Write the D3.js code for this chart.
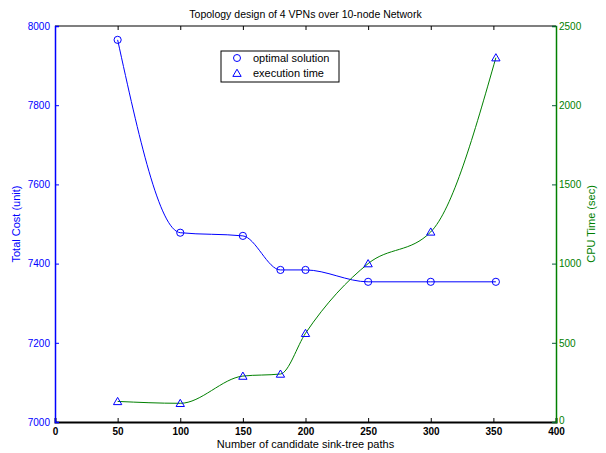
<!DOCTYPE html>
<html><head><meta charset="utf-8">
<script src="https://cdn.jsdelivr.net/npm/d3@7"></script>
<style>
body{margin:0;background:#fff;}
text{font-family:"Liberation Sans",Arial,Helvetica,sans-serif;}
</style></head>
<body><svg id="c" width="606" height="453"></svg>
<script>
const paths = [50, 100, 150, 180, 200, 250, 300, 352];
const totalCost = [7965, 7478, 7470, 7384, 7384, 7354, 7354, 7354];
const cpuTime = [130, 118, 290, 303, 560, 1000, 1200, 2300];
const xTicks = [0, 50, 100, 150, 200, 250, 300, 350, 400];
const costTicks = [7000, 7200, 7400, 7600, 7800, 8000];
const timeTicks = [0, 500, 1000, 1500, 2000, 2500];
const title = "Topology design of 4 VPNs over 10-node Network";
const legendLabels = ["optimal solution", "execution time"];

const svg = d3.select("#c");
const L = 55, R = 556, T = 26, B = 422;
const BLUE = "#0000ff", GREEN = "#008000";
const x = d3.scaleLinear().domain([0, 400]).range([L, R]);
const yC = d3.scaleLinear().domain([7000, 8000]).range([B, T]);
const yT = d3.scaleLinear().domain([0, 2500]).range([B, T]);

// frame top
svg.append("line").attr("x1", L).attr("x2", R).attr("y1", T).attr("y2", T).attr("stroke", "#000").attr("stroke-width", 1.2);

// bottom axis
const gx = svg.append("g").attr("transform", `translate(0,${B})`)
  .call(d3.axisBottom(x).tickValues(xTicks).tickSize(-4).tickPadding(6).tickFormat(d3.format("d")));
gx.select(".domain").attr("stroke", "#000").attr("stroke-width", 2);
gx.selectAll(".tick line").attr("stroke", "#000");
gx.selectAll("text").attr("font-size", 10).attr("fill", "#000").attr("font-weight", "bold");
// top ticks
const gxt = svg.append("g").attr("transform", `translate(0,${T})`)
  .call(d3.axisTop(x).tickValues(xTicks).tickSize(-4).tickFormat(""));
gxt.select(".domain").remove();
gxt.selectAll(".tick line").attr("stroke", "#000");

// left axis
const gl = svg.append("g").attr("transform", `translate(${L},0)`)
  .call(d3.axisLeft(yC).tickValues(costTicks).tickSize(-4).tickPadding(5).tickFormat(d3.format("d")));
gl.select(".domain").attr("stroke", BLUE).attr("stroke-width", 1.5);
gl.selectAll(".tick line").attr("stroke", BLUE);
gl.selectAll("text").attr("font-size", 10).attr("fill", BLUE);

// right axis
const gr = svg.append("g").attr("transform", `translate(${R},0)`)
  .call(d3.axisRight(yT).tickValues(timeTicks).tickSize(-4).tickPadding(3).tickFormat(d3.format("d")));
gr.select(".domain").attr("stroke", GREEN).attr("stroke-width", 1.5);
gr.selectAll(".tick line").attr("stroke", "#0a5a3a");
gr.selectAll("text").attr("font-size", 10).attr("fill", GREEN);
gr.selectAll(".tick").filter(d => d === 0).select("text").attr("dy", "0.1em");

// lines
const lineC = d3.line().x((d, i) => x(paths[i])).y(d => yC(d)).curve(d3.curveMonotoneX);
const lineT = d3.line().x((d, i) => x(paths[i])).y(d => yT(d)).curve(d3.curveMonotoneX);
svg.append("path").attr("d", lineC(totalCost)).attr("fill", "none").attr("stroke", BLUE).attr("stroke-width", 1);
svg.append("path").attr("d", lineT(cpuTime)).attr("fill", "none").attr("stroke", GREEN).attr("stroke-width", 1);

// markers
const tri = d3.symbol().type(d3.symbolTriangle).size(30);
svg.selectAll(".mc").data(totalCost).enter().append("circle")
  .attr("cx", (d, i) => x(paths[i])).attr("cy", d => yC(d)).attr("r", 3.6)
  .attr("fill", "none").attr("stroke", BLUE).attr("stroke-width", 1);
svg.selectAll(".mt").data(cpuTime).enter().append("path")
  .attr("d", tri).attr("transform", (d, i) => `translate(${x(paths[i])},${yT(d) + 0.8})`)
  .attr("fill", "none").attr("stroke", BLUE).attr("stroke-width", 1);

// title & labels
svg.append("text").attr("x", (L + R) / 2).attr("y", 18).attr("text-anchor", "middle").attr("font-size", 10.5).text(title);
svg.append("text").attr("x", (L + R) / 2).attr("y", 448).attr("text-anchor", "middle").attr("font-size", 11).text("Number of candidate sink-tree paths");
svg.append("text").attr("transform", `translate(20,${(T + B) / 2}) rotate(-90)`).attr("text-anchor", "middle").attr("font-size", 11).attr("fill", BLUE).text("Total Cost (unit)");
svg.append("text").attr("transform", `translate(595,${(T + B) / 2}) rotate(-90)`).attr("text-anchor", "middle").attr("font-size", 11).attr("fill", GREEN).text("CPU Time (sec)");

// legend
const lg = svg.append("g");
lg.append("rect").attr("x", 221).attr("y", 51).attr("width", 118).attr("height", 31).attr("fill", "#fff").attr("stroke", "#000").attr("stroke-width", 1);
lg.append("circle").attr("cx", 237).attr("cy", 58).attr("r", 3.5).attr("fill", "none").attr("stroke", BLUE);
lg.append("path").attr("d", tri).attr("transform", "translate(237,74)").attr("fill", "none").attr("stroke", BLUE);
legendLabels.forEach((t, i) => {
  lg.append("text").attr("x", 253).attr("y", 62 + i * 15).attr("font-size", 11).text(t);
});
</script></body></html>
